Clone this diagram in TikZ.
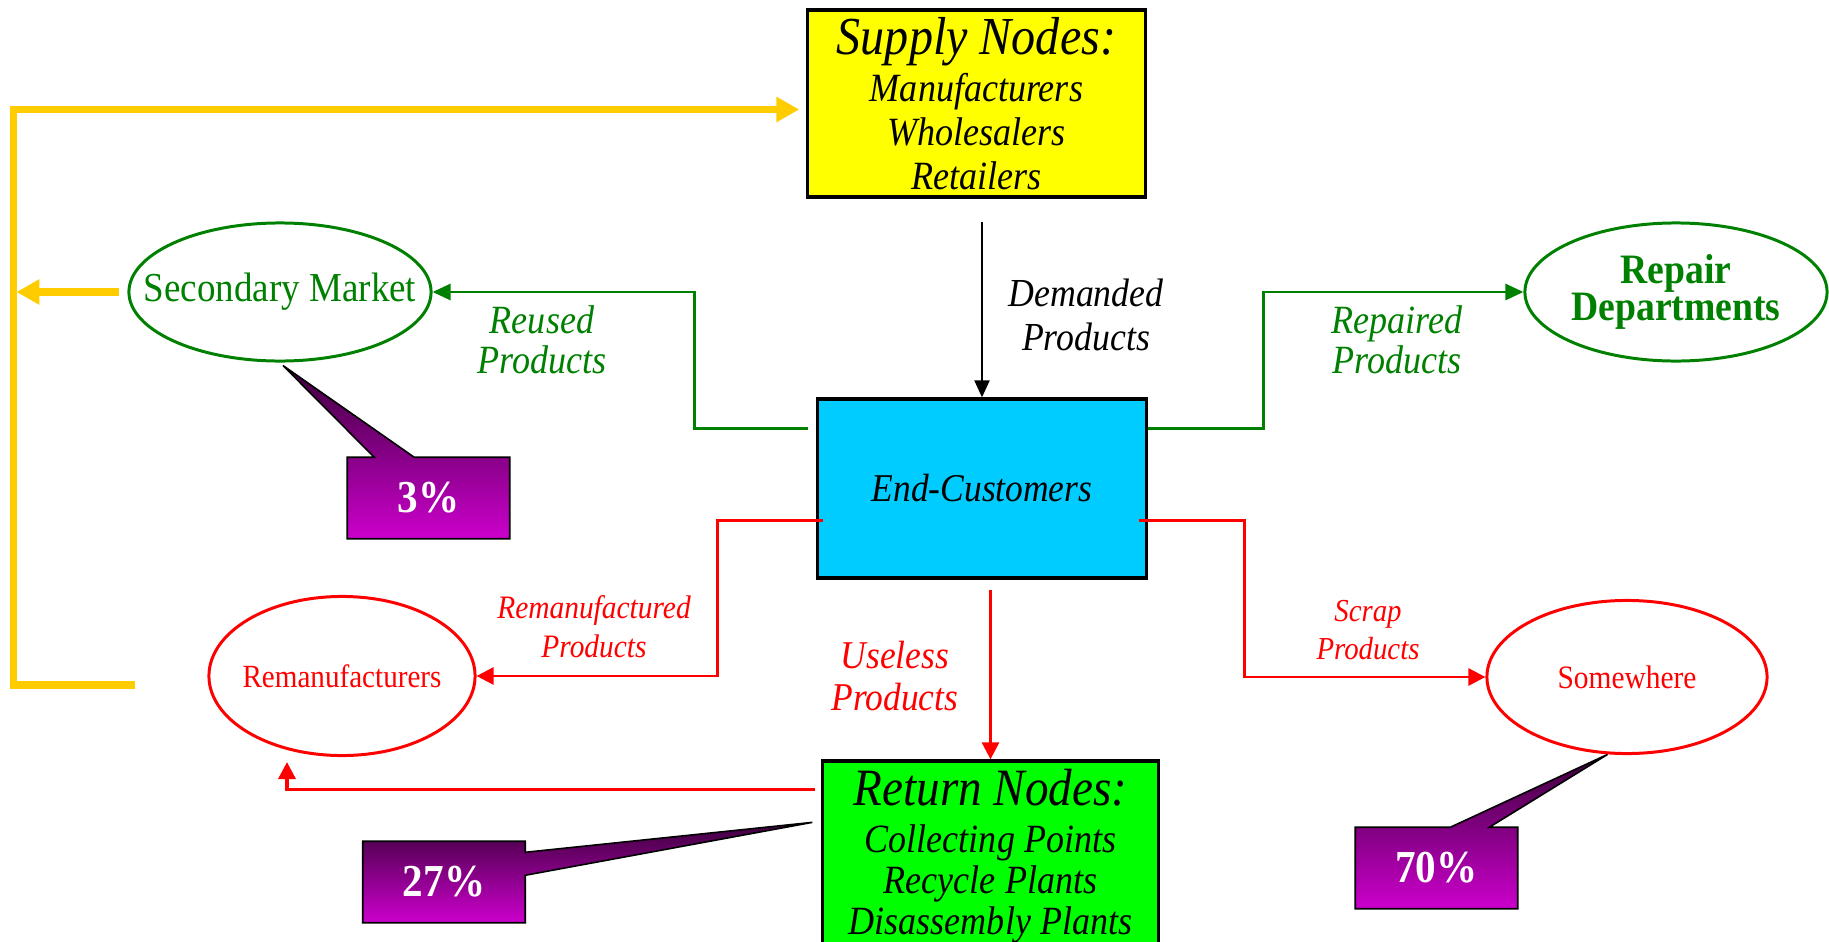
\documentclass[tikz,border=0pt]{standalone}
\usepackage{fontspec}
\setmainfont{Liberation Serif}[FakeStretch=0.9]
\usetikzlibrary{shapes.geometric,arrows.meta,calc,backgrounds}
\definecolor{flowgreen}{RGB}{0,128,0}
\definecolor{flowred}{RGB}{255,0,0}
\definecolor{loopyellow}{RGB}{255,204,0}
\definecolor{supplyyellow}{RGB}{255,255,0}
\definecolor{custblue}{RGB}{0,204,255}
\definecolor{retgreen}{RGB}{0,255,0}
\definecolor{pctdark}{RGB}{60,0,60}
\definecolor{pctlight}{RGB}{204,0,204}
\begin{document}
\begin{tikzpicture}[x=0.01cm, y=-0.01cm,
    box/.style = {draw, line width=0.9pt, align=center, inner sep=0pt},
    oval/.style = {draw, ellipse, line width=0.85pt, inner sep=0pt, align=center},
    lbl/.style = {align=center, inner sep=0pt},
    pct/.style = {minimum width=1.61cm, minimum height=0.8cm, inner sep=0pt, text=white, font=\bfseries\fontsize{13}{13}\selectfont},
    pctshape/.style = {draw=black, line width=0.45pt, top color=pctdark, bottom color=pctlight},
    greenflow/.style = {draw=flowgreen, line width=0.85pt, -{Triangle[length=0.18cm, width=0.16cm]}},
    redflow/.style = {draw=flowred, line width=0.8pt, -{Triangle[length=0.17cm, width=0.17cm]}},
    loopflow/.style = {draw=loopyellow, line width=2pt, -{Triangle[length=0.23cm, width=0.24cm]}}]
    \useasboundingbox (0,0) rectangle (1829,942);
    \node[box, fill=custblue, minimum width=3.28cm, minimum height=1.79cm, font=\itshape\fontsize{11.2}{12}\selectfont] (cust) at (982,488.5) {End-Customers};
    \node[box, fill=supplyyellow, minimum width=3.37cm, minimum height=1.87cm, font=\itshape\fontsize{11.4}{12.5}\selectfont] (supply) at (976.5,103.5) {{\fontsize{15.2}{15.5}\selectfont Supply Nodes:}\\[1pt] Manufacturers\\ Wholesalers\\ Retailers};
    \node[box, fill=retgreen, minimum width=3.35cm, minimum height=1.9cm, font=\itshape\fontsize{11.4}{11.6}\selectfont] (ret) at (990.5,856) {{\fontsize{14.9}{15.5}\selectfont Return Nodes:}\\[2pt] Collecting Points\\ Recycle Plants\\ Disassembly Plants};
    \node[oval, draw=flowgreen, text=flowgreen, minimum width=3.02cm, minimum height=1.38cm, font=\fontsize{11.7}{12}\selectfont] (sec) at (280,292) {\makebox[0pt]{Secondary Market}};
    \node[oval, draw=flowgreen, text=flowgreen, minimum width=3.02cm, minimum height=1.38cm, font=\bfseries\fontsize{11.9}{10.3}\selectfont] (rep) at (1676,292) {Repair\\[-0.6pt]Departments};
    \node[oval, draw=flowred, text=flowred, minimum width=2.66cm, minimum height=1.59cm, font=\fontsize{9.2}{10}\selectfont] (reman) at (342,676) {\makebox[0pt]{Remanufacturers}};
    \node[oval, draw=flowred, text=flowred, minimum width=2.8cm, minimum height=1.53cm, font=\fontsize{9.3}{10}\selectfont] (some) at (1627,677) {\makebox[0pt]{Somewhere}};
    \node[lbl, text=black, font=\itshape\fontsize{11.3}{12.5}\selectfont] (demanded) at (1086,315) {Demanded\\Products};
    \node[lbl, text=flowgreen, font=\itshape\fontsize{11.4}{11.4}\selectfont] (reused) at (542,340) {Reused\\Products};
    \node[lbl, text=flowgreen, font=\itshape\fontsize{11.4}{11.4}\selectfont] (repaired) at (1397,340) {Repaired\\Products};
    \node[lbl, text=flowred, font=\itshape\fontsize{9.3}{11.1}\selectfont] (remanprod) at (594,627) {Remanufactured\\Products};
    \node[lbl, text=flowred, font=\itshape\fontsize{11.2}{12}\selectfont] (useless) at (895,676) {Useless\\Products};
    \node[lbl, text=flowred, font=\itshape\fontsize{9.1}{10.8}\selectfont] (scrap) at (1368,630) {Scrap\\Products};
    \node[pct] (p3) at (428.5,498) {3\%};
    \node[pct] (p27) at (444,882) {27\%};
    \node[pct] (p70) at (1436.5,868) {70\%};
    \begin{scope}[on background layer]
    \path[pctshape] (p3.north west) -- ($(p3.north west)+(27,0)$) -- ($(sec.south)+(3,3)$) -- ($(p3.north west)+(67,0)$) -- (p3.north east) -- (p3.south east) -- (p3.south west) -- cycle;
    \path[pctshape] (p27.north west) -- (p27.north east) -- ($(p27.north east)+(0,11)$) -- ($(ret.north west)+(-9,63)$) -- ($(p27.north east)+(0,34)$) -- (p27.south east) -- (p27.south west) -- cycle;
    \path[pctshape] (p70.north west) -- ($(p70.north west)+(95,0)$) -- (some.256) -- ($(p70.north west)+(134,0)$) -- (p70.north east) -- (p70.south east) -- (p70.south west) -- cycle;
    \end{scope}
    \draw[line width=0.6pt, -{Triangle[length=0.17cm, width=0.15cm]}] ($(cust.north |- supply.south)+(0,23)$) -- (cust.north);
    \draw[greenflow] ($(cust.north west)+(-8,31)$) -- ++(-114,0) |- (sec.east);
    \draw[greenflow] ($(cust.north east)+(0,31)$) -- ++(116,0) |- (rep.west);
    \draw[redflow] ($(cust.north west)+(7,123)$) -- ++(-106,0) |- (reman.east);
    \draw[redflow] ($(cust.north east)+(-9,123)$) -- ++(106,0) |- (some.west);
    \draw[redflow] ($(ret.north |- cust.south)+(0,10)$) -- (ret.north);
    \draw[redflow, line width=1pt] ($(ret.north west)+(-6,30)$) -| ($(reman.south)+(-55,5)$);
    \draw[loopflow] ($(reman.west)+(-72,9)$) -- ++(-122,0) |- ($(supply.west)+(-7,6)$);
    \draw[loopflow] ($(sec.west)+(-8,0)$) -- ++(-103,0);
\end{tikzpicture}
\end{document}
